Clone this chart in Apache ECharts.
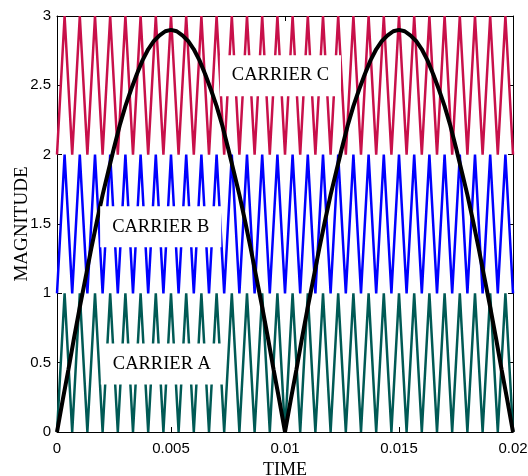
<!DOCTYPE html>
<html>
<head>
<meta charset="utf-8">
<script src="https://cdn.jsdelivr.net/npm/echarts@6/dist/echarts.min.js"></script>
<style>
  html, body { margin: 0; padding: 0; background: #fff; }
  #main { width: 528px; height: 476px; }
</style>
</head>
<body>
<div id="main"></div>
<script>
// carrier vertex times (ms) and levels (30 cycles over 20 ms)
var carrierTimesMs = [0, 0.333, 0.667, 1, 1.333, 1.667, 2, 2.333, 2.667, 3, 3.333, 3.667,
  4, 4.333, 4.667, 5, 5.333, 5.667, 6, 6.333, 6.667, 7, 7.333, 7.667, 8, 8.333, 8.667,
  9, 9.333, 9.667, 10, 10.333, 10.667, 11, 11.333, 11.667, 12, 12.333, 12.667, 13, 13.333,
  13.667, 14, 14.333, 14.667, 15, 15.333, 15.667, 16, 16.333, 16.667, 17, 17.333, 17.667,
  18, 18.333, 18.667, 19, 19.333, 19.667, 20];
var carrierLevels = [0, 1, 0, 1, 0, 1, 0, 1, 0, 1, 0, 1, 0, 1, 0, 1, 0, 1, 0, 1, 0, 1, 0, 1,
  0, 1, 0, 1, 0, 1, 0, 1, 0, 1, 0, 1, 0, 1, 0, 1, 0, 1, 0, 1, 0, 1, 0, 1, 0, 1, 0, 1, 0, 1,
  0, 1, 0, 1, 0, 1, 0];
var carrierNames = ['CARRIER A', 'CARRIER B', 'CARRIER C'];
var carrierOffsets = [0, 1, 2];
var carrierColors = ['#005a55', '#0000ff', '#c8104a'];

// reference (rectified sine) samples, time in ms
var refTimesMs = [0, 0.25, 0.5, 0.75, 1, 1.25, 1.5, 1.75, 2, 2.25, 2.5, 2.75, 3, 3.25, 3.5,
  3.75, 4, 4.25, 4.5, 4.75, 5, 5.25, 5.5, 5.75, 6, 6.25, 6.5, 6.75, 7, 7.25, 7.5, 7.75, 8,
  8.25, 8.5, 8.75, 9, 9.25, 9.5, 9.75, 10, 10.25, 10.5, 10.75, 11, 11.25, 11.5, 11.75, 12,
  12.25, 12.5, 12.75, 13, 13.25, 13.5, 13.75, 14, 14.25, 14.5, 14.75, 15, 15.25, 15.5,
  15.75, 16, 16.25, 16.5, 16.75, 17, 17.25, 17.5, 17.75, 18, 18.25, 18.5, 18.75, 19,
  19.25, 19.5, 19.75, 20];
var refValues = [0, 0.23, 0.45, 0.68, 0.9, 1.11, 1.32, 1.52, 1.71, 1.88, 2.05, 2.21, 2.35,
  2.47, 2.58, 2.68, 2.76, 2.82, 2.86, 2.89, 2.9, 2.89, 2.86, 2.82, 2.76, 2.68, 2.58, 2.47,
  2.35, 2.21, 2.05, 1.88, 1.71, 1.52, 1.32, 1.11, 0.9, 0.68, 0.45, 0.23, 0,
  0.23, 0.45, 0.68, 0.9, 1.11, 1.32, 1.52, 1.71, 1.88, 2.05, 2.21, 2.35,
  2.47, 2.58, 2.68, 2.76, 2.82, 2.86, 2.89, 2.9, 2.89, 2.86, 2.82, 2.76, 2.68, 2.58, 2.47,
  2.35, 2.21, 2.05, 1.88, 1.71, 1.52, 1.32, 1.11, 0.9, 0.68, 0.45, 0.23, 0];

// text boxes
var labelTexts = ['CARRIER A', 'CARRIER B', 'CARRIER C'];
var labelTimes = [0.0046, 0.00455, 0.0098];
var labelLevels = [0.49, 1.48, 2.57];

var serif = 'Liberation Serif';
var sans = 'Liberation Sans';

var chart = echarts.init(document.getElementById('main'));

var series = carrierNames.map(function (name, i) {
  return {
    name: name,
    type: 'line',
    symbol: 'none',
    z: 2,
    lineStyle: { color: carrierColors[i], width: 2.5 },
    data: carrierTimesMs.map(function (t, k) {
      return [t / 1000, carrierLevels[k] + carrierOffsets[i]];
    })
  };
});

series.push({
  name: 'reference',
  type: 'line',
  symbol: 'none',
  z: 3,
  lineStyle: { color: '#000', width: 4 },
  data: refTimesMs.map(function (t, k) { return [t / 1000, refValues[k]]; })
});

series.push({
  name: 'labels',
  type: 'scatter',
  symbolSize: 1,
  z: 5,
  silent: true,
  itemStyle: { opacity: 1, color: 'rgba(0,0,0,0)' },
  label: {
    show: true,
    position: 'inside',
    formatter: function (p) { return p.data[2]; },
    fontFamily: serif,
    fontSize: 18.5,
    color: '#000',
    opacity: 1,
    backgroundColor: '#fff',
    padding: [11, 12, 11, 12]
  },
  data: labelTexts.map(function (s, i) { return [labelTimes[i], labelLevels[i], s]; })
});

var frameLine = { show: true, onZero: false, lineStyle: { color: '#000', width: 1 } };
var tickIn = { show: true, inside: true, length: 5, lineStyle: { color: '#000' } };

var option = {
  animation: false,
  backgroundColor: '#fff',
  grid: { left: 57, right: 15, top: 16, bottom: 44, outerBoundsMode: 'none', containLabel: false },
  xAxis: [{
    type: 'value', position: 'bottom', min: 0, max: 0.02, interval: 0.005,
    axisLine: frameLine, axisTick: tickIn, splitLine: { show: false },
    axisLabel: { color: '#000', fontFamily: sans, fontSize: 15, margin: 9 },
    name: 'TIME', nameLocation: 'middle', nameGap: 29, nameMoveOverlap: false,
    nameTextStyle: { color: '#000', fontFamily: serif, fontSize: 18 }
  }, {
    type: 'value', position: 'top', min: 0, max: 0.02, interval: 0.005,
    axisLine: frameLine, axisTick: tickIn, splitLine: { show: false },
    axisLabel: { show: false }
  }],
  yAxis: [{
    type: 'value', position: 'left', min: 0, max: 3, interval: 0.5,
    axisLine: frameLine, axisTick: tickIn, splitLine: { show: false },
    axisLabel: { color: '#000', fontFamily: sans, fontSize: 15, margin: 6 },
    name: 'MAGNITUDE', nameLocation: 'middle', nameGap: 25, nameMoveOverlap: false,
    nameTextStyle: { color: '#000', fontFamily: serif, fontSize: 19 }
  }, {
    type: 'value', position: 'right', min: 0, max: 3, interval: 0.5,
    axisLine: frameLine, axisTick: tickIn, splitLine: { show: false },
    axisLabel: { show: false }
  }],
  series: series
};

chart.setOption(option);
</script>
</body>
</html>
